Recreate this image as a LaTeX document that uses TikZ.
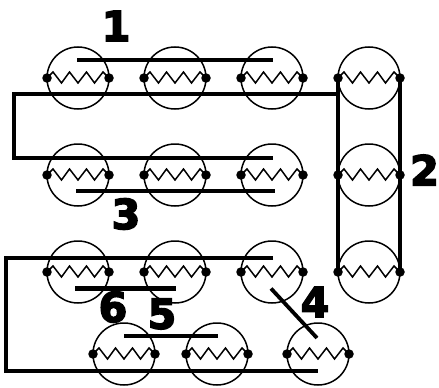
\documentclass[tikz,border=0pt]{standalone}
\usepackage{fontspec}
\setmainfont{DejaVu Sans}
\newfontfamily\numfont[FakeBold=4]{DejaVu Sans Bold}
\tikzset{
  x=1pt,y=-1pt,
  lampbody/.style={circle,draw=black,line width=1.5pt,minimum size=62pt,inner sep=0pt,outer sep=0pt},
  filament/.style={draw=black,line width=1.5pt,line join=miter},
  terminal/.style={circle,fill=black,minimum size=9.5pt,inner sep=0pt,outer sep=0pt},
  wire/.style={draw=black,line width=4.6pt,line join=miter},
  number/.style={font=\fontsize{41}{41}\numfont,inner sep=0pt}
}
\newcommand{\lamp}[3]{%
  \node[lampbody] (#1) at (#2,#3) {};
  \node[terminal] (#1l) at (#1.west) {};
  \node[terminal] (#1r) at (#1.east) {};
  \draw[filament] (#1l.center) -- ++(6,-6) -- ++(8.5,11) -- ++(8,-11) -- ++(8.5,11) -- ++(8.5,-11) -- ++(8,11) -- ++(8.5,-11) -- (#1r.center);
}
\begin{document}
\begin{tikzpicture}
\useasboundingbox (0,0) rectangle (439,388);
\lamp{a1}{78}{78}\lamp{a2}{175}{78}\lamp{a3}{272}{78}\lamp{a4}{369}{78}
\lamp{b1}{78}{175}\lamp{b2}{175}{175}\lamp{b3}{272}{175}\lamp{b4}{369}{175}
\lamp{c1}{78}{272}\lamp{c2}{175}{272}\lamp{c3}{272}{272}\lamp{c4}{369}{272}
\lamp{d1}{124}{354}\lamp{d2}{217}{354}\lamp{d3}{318}{354}
% free wire ends
\coordinate (w1a) at (77,60);   \coordinate (w1b) at (273,60);
\coordinate (w3a) at (76,191);  \coordinate (w3b) at (275,191);
\coordinate (w6a) at (75,288.5);\coordinate (w6b) at (176,288.5);
\coordinate (w5a) at (124,336); \coordinate (w5b) at (218,336);
\coordinate (w4a) at (271,288.5);\coordinate (w4b) at (317,338);
\coordinate (t1) at (337,94);   \coordinate (t2) at (14,94);
\coordinate (t3) at (14,158);   \coordinate (t4) at (273,158);
\coordinate (u1) at (273,258);  \coordinate (u2) at (6,258);
\coordinate (u3) at (6,371);    \coordinate (u4) at (318,371);
\draw[wire] (w1a) -- (w1b);
\draw[wire] (w3a) -- (w3b);
\draw[wire] (w6a) -- (w6b);
\draw[wire] (w5a) -- (w5b);
\draw[wire,line width=3.8pt] (w4a) -- (w4b);
\draw[wire] (t1) -- (t2) -- (t3) -- (t4);
\draw[wire] (u1) -- (u2) -- (u3) -- (u4);
\draw[wire] (a4l.center) -- (c4l.center);
\draw[wire] (a4r.center) -- (c4r.center);
\node[number] (n1) at (116,26) {1};
\node[number] (n2) at (424.5,170) {2};
\node[number] (n3) at (126,214) {3};
\node[number] (n4) at (315,302) {4};
\node[number] (n5) at (162,314) {5};
\node[number] (n6) at (113,307) {6};
\end{tikzpicture}
\end{document}
